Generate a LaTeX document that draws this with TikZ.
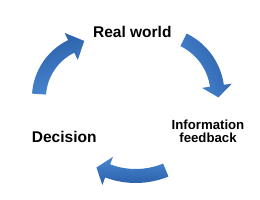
\documentclass[tikz,border=0pt]{standalone}
\usepackage{fontspec}
\setmainfont{Liberation Sans}
\usetikzlibrary{calc}
\definecolor{arrowdark}{HTML}{2B5FA9}
\definecolor{arrowlight}{HTML}{4A88D2}
\newcommand\cycarrow[7]{% #1 center, #2 radius, #3 tail angle, #4 head base angle, #5 tip angle, #6 tip radius, #7 shading angle
  \shade[arrowfill,shading angle=#7]
    ([shift={({#3}:{#2+7})}]#1) arc[start angle=#3, end angle=#4, radius=#2+7]
    -- ([shift={({#4}:{#2+15})}]#1)
    -- ([shift={({#5}:{#6})}]#1)
    -- ([shift={({#4}:{#2-15})}]#1)
    -- ([shift={({#4}:{#2-7})}]#1) arc[start angle=#4, end angle=#3, radius=#2-7]
    -- cycle;}
\begin{document}
\begin{tikzpicture}[x=1bp,y=1bp,
  arrowfill/.style={top color=arrowlight,bottom color=arrowdark},
  biglabel/.style={font=\bfseries\fontsize{15.5bp}{18bp}\selectfont,inner sep=0pt,text=black},
  smalllabel/.style={font=\bfseries\fontsize{13.2bp}{13bp}\selectfont,inner sep=0pt,align=center,text=black}]
\useasboundingbox[fill=white] (0,0) rectangle (260,200);
\coordinate (c1) at (96.4,101.9);
\coordinate (c2) at (157,105.8);
\coordinate (c3) at (135.7,103.3);
\cycarrow{c1}{57.5}{176}{116}{102}{58.5}{200}
\cycarrow{c2}{60.5}{64}{8}{-3}{61.5}{120}
\cycarrow{c3}{79.3}{292.3}{249.3}{241}{81}{0}
\node[biglabel,anchor=base] (real) at (132.3,162.3) {Real world};
\node[biglabel,anchor=base] (decision) at (64.2,57.7) {Decision};
\node[smalllabel,anchor=center] (info) at (208,69) {Information\\feedback};
\end{tikzpicture}
\end{document}
